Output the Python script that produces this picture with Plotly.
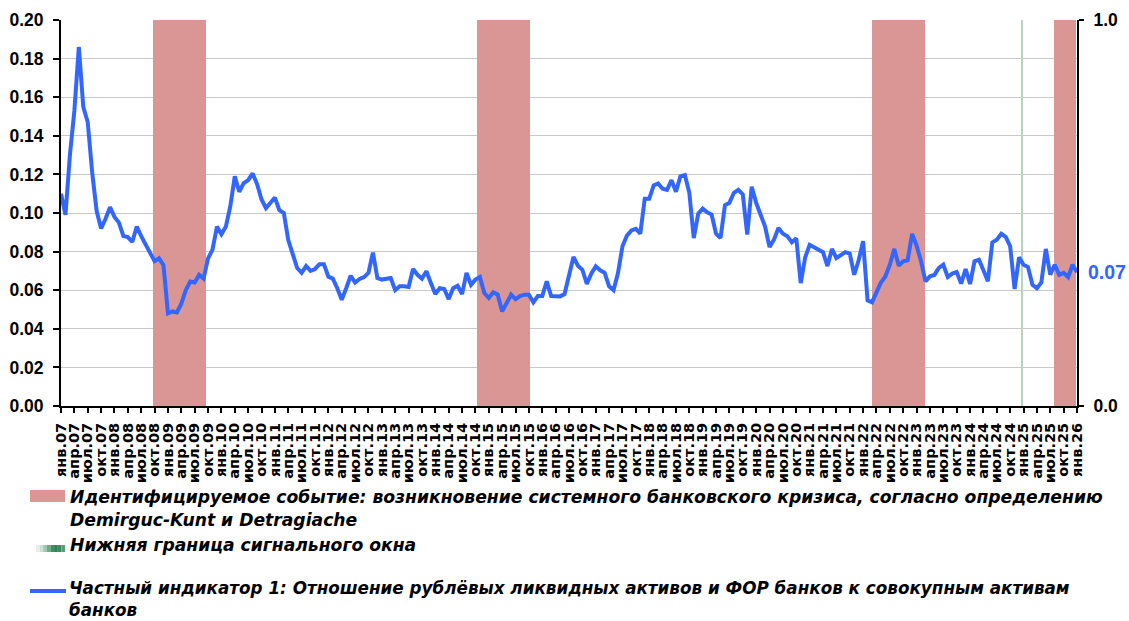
import plotly.graph_objects as go

# ---------------- data ----------------
month_abbr = ["янв.", "фев.", "мар.", "апр.", "май", "июн.",
              "июл.", "авг.", "сен.", "окт.", "ноя.", "дек."]
start_year = 2007
n_months = 229  # янв.07 ... янв.26
month_labels = [f"{month_abbr[k % 12]}{(start_year + k // 12) % 100:02d}" for k in range(n_months)]

indicator = [
    # 2007
    0.110, 0.099, 0.130, 0.153, 0.186, 0.155, 0.147, 0.121, 0.101, 0.092, 0.097, 0.103,
    # 2008
    0.098, 0.095, 0.088, 0.0875, 0.085, 0.093, 0.088, 0.0835, 0.080, 0.075, 0.0765, 0.073,
    # 2009
    0.048, 0.049, 0.0485, 0.053, 0.060, 0.0645, 0.064, 0.068, 0.066, 0.0765, 0.081, 0.093,
    # 2010
    0.089, 0.093, 0.1035, 0.119, 0.111, 0.1155, 0.117, 0.1205, 0.115, 0.107, 0.1025, 0.105,
    # 2011
    0.108, 0.1015, 0.100, 0.086, 0.079, 0.0715, 0.069, 0.0725, 0.070, 0.071, 0.0735, 0.0735,
    # 2012
    0.067, 0.066, 0.061, 0.055, 0.061, 0.0675, 0.064, 0.0658, 0.0668, 0.069, 0.0795, 0.0663,
    # 2013
    0.0655, 0.066, 0.0663, 0.060, 0.062, 0.062, 0.0617, 0.071, 0.068, 0.066, 0.0698, 0.0637,
    # 2014
    0.058, 0.061, 0.0606, 0.0554, 0.061, 0.0623, 0.058, 0.069, 0.0628, 0.0655, 0.0668, 0.0585,
    # 2015
    0.056, 0.0589, 0.0577, 0.049, 0.0533, 0.0577, 0.0554, 0.057, 0.0577, 0.0577, 0.0537, 0.057,
    # 2016
    0.057, 0.0646, 0.057, 0.0568, 0.0568, 0.058, 0.068, 0.0772, 0.0727, 0.0706, 0.0632, 0.0686,
    # 2017
    0.0724, 0.0703, 0.069, 0.062, 0.060, 0.069, 0.0828, 0.0883, 0.091, 0.0918, 0.0893, 0.1074,
    # 2018
    0.1074, 0.1143, 0.1153, 0.1126, 0.112, 0.117, 0.111, 0.119, 0.1197, 0.1105, 0.087, 0.0997,
    # 2019
    0.1023, 0.1004, 0.0992, 0.0893, 0.087, 0.104, 0.1053, 0.1105, 0.112, 0.1096, 0.0888, 0.1136,
    # 2020
    0.1053, 0.0992, 0.093, 0.0824, 0.0862, 0.0923, 0.0893, 0.088, 0.0848, 0.087, 0.0637, 0.077,
    # 2021
    0.0835, 0.0822, 0.081, 0.0797, 0.0725, 0.0814, 0.0767, 0.0784, 0.0797, 0.079, 0.068, 0.0755,
    # 2022
    0.0854, 0.0547, 0.0537, 0.0589, 0.064, 0.0672, 0.0732, 0.0814, 0.0727, 0.075, 0.0755, 0.0892,
    # 2023
    0.0831, 0.075, 0.0646, 0.0672, 0.0679, 0.0715, 0.0732, 0.0668, 0.0686, 0.0694, 0.0634, 0.071,
    # 2024
    0.0632, 0.075, 0.0758, 0.0703, 0.0646, 0.0848, 0.0862, 0.0892, 0.0876, 0.0828, 0.0606, 0.077,
    # 2025
    0.0732, 0.072, 0.0628, 0.061, 0.064, 0.0814, 0.068, 0.0732, 0.068, 0.069, 0.0668, 0.0732,
    # 2026
    0.0693,
]

# crisis periods (first month, last month), Demirguc-Kunt & Detragiache definition
crisis_periods = [("окт.08", "сен.09"), ("ноя.14", "окт.15"),
                  ("апр.22", "мар.23"), ("сен.25", "янв.26")]
crisis_flag = [0] * n_months
for a, b in crisis_periods:
    for k in range(month_labels.index(a), month_labels.index(b) + 1):
        crisis_flag[k] = 1

signal_window_start = "янв.25"

tick_idx = list(range(0, n_months, 3))
tick_text = [month_labels[k] for k in tick_idx]

legend_crisis = ["Идентифицируемое событие: возникновение системного банковского кризиса, согласно определению",
                 "Demirguc-Kunt и Detragiache"]
legend_signal = ["Нижняя граница сигнального окна"]
legend_line = ["Частный индикатор 1: Отношение рублёвых ликвидных активов и ФОР банков к совокупным активам",
               "банков"]

# ---------------- styling ----------------
BLUE = "#3366FF"
PINK = "#D99694"
GREEN_LINE = "#B5D4C4"
GRID = "#C8C8C8"
W, H = 1129, 621
L, R, T, B = 61, 52, 20, 215
PW, PH = W - L - R, H - T - B


def px(x):
    return (x - L) / PW


def py(y):
    return (H - B - y) / PH


x_idx = list(range(n_months))

fig = go.Figure()

# crisis bars (main axes, drawn beneath the line)
fig.add_trace(go.Bar(
    x=x_idx, y=crisis_flag, width=1.0,
    marker=dict(color=PINK, line=dict(width=0)),
    xaxis="x", yaxis="y", showlegend=False, hoverinfo="skip",
))
# signal-window lower bound
fig.add_trace(go.Bar(
    x=[month_labels.index(signal_window_start)], y=[1], width=0.32,
    marker=dict(color=GREEN_LINE, line=dict(width=0)),
    xaxis="x", yaxis="y", showlegend=False, hoverinfo="skip",
))
# indicator line
fig.add_trace(go.Scatter(
    x=x_idx, y=indicator, mode="lines",
    line=dict(color=BLUE, width=4),
    xaxis="x2", yaxis="y2", showlegend=False,
))

label_font = dict(family="Liberation Sans, Arial, sans-serif", size=17.5, color="black", weight="bold")

fig.update_layout(
    width=W, height=H,
    margin=dict(l=L, r=R, t=T, b=B, pad=0, autoexpand=False),
    paper_bgcolor="white", plot_bgcolor="white",
    bargap=0,
    xaxis=dict(range=[-0.5, n_months - 0.5], visible=False, fixedrange=True),
    yaxis=dict(range=[0, 1], side="right", tickvals=[0, 1], ticktext=["0.0", "1.0"],
               showgrid=False, zeroline=False, showline=True, linecolor="black", linewidth=2,
               ticks="outside", ticklen=5, tickwidth=2, tickcolor="black",
               tickfont=label_font, ticklabelstandoff=6),
    xaxis2=dict(range=[0, n_months - 1], overlaying="x", anchor="y2", side="bottom",
                tickmode="array", tickvals=tick_idx, ticktext=tick_text, tickangle=-90,
                showgrid=False, zeroline=False, showline=True, linecolor="black", linewidth=2,
                ticks="outside", ticklen=5, tickwidth=2, tickcolor="black",
                tickfont=dict(family="DejaVu Sans, sans-serif", size=14.5, color="black", weight="bold"),
                ticklabelstandoff=4),
    yaxis2=dict(range=[0, 0.2], overlaying="y", side="left", anchor="x2",
                tickmode="linear", tick0=0, dtick=0.02, tickformat=".2f",
                showgrid=True, gridcolor=GRID, gridwidth=1, zeroline=False,
                showline=True, linecolor="black", linewidth=2,
                ticks="outside", ticklen=6, tickwidth=2, tickcolor="black",
                tickfont=label_font, ticklabelstandoff=6),
)

# data label for the last value
fig.add_annotation(
    x=x_idx[-1], y=indicator[-1], xref="x2", yref="y2",
    text=f"{indicator[-1]:.2f}", showarrow=False, xanchor="left", yanchor="middle",
    xshift=9, font=dict(family="Liberation Sans, Arial, sans-serif", size=19.5, color=BLUE, weight="bold"),
)

# ---------------- custom legend ----------------
leg_font = dict(family="DejaVu Sans, sans-serif", size=17.2, color="black", weight="bold", style="italic")
legend_rows = [(legend_crisis[0], 497), (legend_crisis[1], 520),
               (legend_signal[0], 545)]
for txt, yy in legend_rows:
    fig.add_annotation(x=px(68), y=py(yy), xref="paper", yref="paper", text=txt,
                       showarrow=False, xanchor="left", yanchor="middle", font=leg_font)
# two-line item at the very bottom: one text box, bottom-aligned to the page edge
fig.add_annotation(x=px(68), y=py(H), xref="paper", yref="paper", text="<br>".join(legend_line),
                   showarrow=False, xanchor="left", yanchor="bottom", align="left", borderpad=0,
                   font=dict(leg_font, size=16.8))

# pink swatch
fig.add_shape(type="rect", xref="paper", yref="paper", x0=px(30), x1=px(65), y0=py(502), y1=py(490),
              fillcolor=PINK, line=dict(width=0), layer="above")
# green gradient swatch
greens = ["#E6F0EA", "#C9E0D2", "#9CC6AE", "#6DAA88", "#3F8E63", "#2E7F54", "#3E8A60", "#5C9C78"]
gx0, gx1 = 36, 65
step = (gx1 - gx0) / len(greens)
for j, c in enumerate(greens):
    fig.add_shape(type="rect", xref="paper", yref="paper",
                  x0=px(gx0 + j * step), x1=px(gx0 + (j + 1) * step), y0=py(552), y1=py(545),
                  fillcolor=c, line=dict(width=0), layer="above")
# blue line swatch
fig.add_shape(type="line", xref="paper", yref="paper", x0=px(30), x1=px(66), y0=py(591), y1=py(591),
              line=dict(color=BLUE, width=4), layer="above")

fig.write_html("out.html", config={"displayModeBar": False},
               post_script="document.body.style.margin='0';document.body.style.overflow='hidden';")
